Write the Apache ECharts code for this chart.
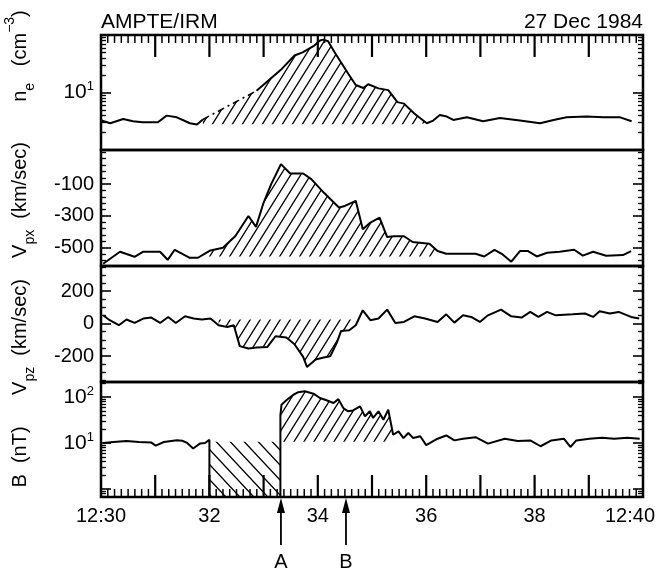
<!DOCTYPE html>
<html><head><meta charset="utf-8">
<script src="https://cdn.jsdelivr.net/npm/echarts@6/dist/echarts.min.js"></script>
<style>html,body{margin:0;padding:0;background:#fff}#c{width:660px;height:573px}</style>
</head><body><div id="c"></div>
<script>
// ---------------- data (time in minutes after 12:00) ----------------
const xLabelValues = [30, 32, 34, 36, 38, 40];
const xTickLabels = ['12:30', '32', '34', '36', '38', '12:40'];

const neBefore = [[30.01,3.25],[30.17,2.92],[30.41,3.47],[30.59,3.16],[30.77,3.04],[31.05,3.04],[31.21,3.96],[31.40,3.7],[31.64,2.92],[31.77,2.77],[31.88,3.4]];
const neDashed = [[31.88,3.4],[32.87,10.7]];
const neAfter = [[32.87,10.7],[33.10,16.5],[33.34,26],[33.57,44],[33.72,50],[33.92,64],[34.04,80],[34.10,83],[34.19,78],[34.31,50],[34.58,20],[34.70,13.5],[34.84,12],[34.93,13.9],[35.12,11.8],[35.30,11],[35.47,6.8],[35.59,6.4],[35.78,4.3],[36.01,2.92],[36.13,3.25],[36.25,4.07],[36.38,3.81],[36.50,3.33],[36.75,3.7],[37.05,3.16],[37.36,3.6],[37.73,3.25],[38.10,2.92],[38.35,3.33],[38.59,3.7],[38.96,3.81],[39.27,3.7],[39.58,3.7],[39.79,3.16]];

const vpx = [[30.04,-601],[30.35,-525],[30.62,-557],[30.78,-525],[31.09,-525],[31.23,-576],[31.36,-513],[31.63,-563],[31.79,-563],[31.94,-532],[32.02,-517],[32.25,-500],[32.48,-426],[32.72,-300],[32.86,-369],[32.99,-226],[33.14,-100],[33.32,26],[33.49,-33],[33.73,-33],[33.88,-68],[34.11,-153],[34.39,-247],[34.50,-237],[34.70,-205],[34.83,-384],[34.97,-342],[35.14,-310],[35.28,-433],[35.40,-428],[35.59,-428],[35.75,-464],[36.06,-475],[36.21,-521],[36.37,-538],[36.68,-538],[36.91,-538],[37.07,-555],[37.26,-513],[37.41,-542],[37.57,-588],[37.73,-521],[37.88,-521],[38.04,-555],[38.23,-532],[38.46,-525],[38.73,-513],[38.89,-550],[39.08,-525],[39.32,-550],[39.63,-546],[39.78,-521]];

const vpz = [[30.04,51],[30.16,21],[30.33,-10],[30.47,25],[30.62,4],[30.78,31],[30.93,37],[31.09,4],[31.24,41],[31.38,4],[31.55,45],[31.71,31],[31.86,25],[32.02,31],[32.17,-10],[32.33,-21],[32.45,-10],[32.56,-139],[32.72,-154],[32.87,-148],[33.07,-144],[33.22,-78],[33.42,-86],[33.57,-127],[33.73,-205],[33.80,-267],[33.96,-221],[34.11,-209],[34.23,-201],[34.35,-119],[34.43,-45],[34.58,-41],[34.70,-10],[34.83,82],[34.97,21],[35.12,31],[35.28,86],[35.43,4],[35.59,10],[35.78,45],[35.98,31],[36.21,10],[36.37,57],[36.52,6],[36.68,51],[36.83,41],[36.99,10],[37.14,51],[37.38,86],[37.57,45],[37.76,37],[37.92,72],[38.07,41],[38.23,72],[38.39,51],[38.70,57],[38.93,62],[39.08,41],[39.20,76],[39.39,62],[39.55,72],[39.78,41],[39.93,31]];

const bBefore = [[30.04,10],[30.23,10.5],[30.47,11],[30.70,10.5],[30.93,10.2],[31.01,8.8],[31.16,10.5],[31.40,11.5],[31.50,11.2],[31.58,10.2],[31.70,7.6],[31.83,9.8],[31.92,10],[32.00,11.8],[32.00,0.5]];
const bGap = [[32.00,10.7],[33.31,10.7]];
const bAfter = [[33.31,0.5],[33.31,40],[33.33,68],[33.43,87],[33.55,112],[33.64,127],[33.76,133],[33.92,118],[34.04,95],[34.16,85],[34.29,74],[34.38,90],[34.47,57.7],[34.56,48.9],[34.65,51],[34.78,62.7],[34.87,38],[34.96,48.9],[35.02,35],[35.12,48.9],[35.21,32],[35.30,53],[35.39,15.1],[35.49,17.9],[35.58,12.8],[35.67,16.5],[35.76,12.8],[35.89,14],[36.00,9],[36.21,12.4],[36.37,14.6],[36.52,11.4],[36.68,12.4],[36.91,13.4],[37.14,9.7],[37.45,12.4],[37.69,11],[37.92,11.4],[38.11,8.5],[38.31,11.4],[38.54,12.4],[38.66,8.2],[38.77,11.4],[39.01,12.4],[39.24,13],[39.47,12.4],[39.71,13],[39.94,12.4]];

const arrowTimes = [33.32, 34.52];
const arrowLabels = ['A', 'B'];

const neLabels = [10];
const vpxLabels = [-500, -300, -100];
const vpzLabels = [-200, 0, 200];
const bLabels = [10, 100];

// ---------------- helpers ----------------
const FONT = "'Liberation Sans', Arial, Helvetica, sans-serif";
const lg = Math.log10;

function hatchP(w, h, back) {
  const c = document.createElement('canvas');
  c.width = w; c.height = h;
  const g = c.getContext('2d');
  g.strokeStyle = '#000'; g.lineWidth = 1.3;
  g.beginPath();
  for (let n = -1; n <= 3; n++) {
    if (!back) { g.moveTo((n - 2) * w, 2 * h); g.lineTo((n + 1) * w, -h); }
    else { g.moveTo((n - 1) * w, -h); g.lineTo((n + 2) * w, 2 * h); }
  }
  g.stroke();
  return { image: c, repeat: 'repeat' };
}
const fwd = hatchP(10, 16, false);
const bwd = hatchP(14, 15, true);

function tick(len, vals, w) { return { show: true, inside: true, length: len, customValues: vals, lineStyle: { color: '#000', width: w } }; }
const noLine = { show: false, onZero: false };
const xAxes = [], yAxes = [];
function xAx(o) { xAxes.push(Object.assign({ type: 'value', min: 30, max: 40, interval: 1, splitLine: { show: false }, axisLine: noLine, axisTick: { show: false }, axisLabel: { show: false } }, o)); return xAxes.length - 1; }
function yAx(o) { yAxes.push(Object.assign({ type: 'value', splitLine: { show: false }, axisLine: noLine, axisTick: { show: false }, axisLabel: { show: false } }, o)); return yAxes.length - 1; }

const GRID = [[35, 115], [150, 116], [266, 116], [382, 115]];
const grids = GRID.map(g => ({
  left: 101, right: 17, top: g[0], height: g[1], show: true, borderColor: '#000', borderWidth: 2.5,
  backgroundColor: 'transparent', containLabel: false, outerBoundsMode: 'none'
}));

// ---- y axes ----
const yLabelStyle = { fontSize: 20, color: '#000', fontFamily: FONT };
const powRich = { b: { fontSize: 21, color: '#000', fontFamily: FONT }, s: { fontSize: 13, color: '#000', fontFamily: FONT, padding: [0, 0, 12, 0] } };

function tickAxes(gi, min, max, major, minor, labels, fmt, rich) {
  yAx({ gridIndex: gi, min, max, position: 'left', axisTick: tick(10, major, 1.6),
    axisLabel: Object.assign({ show: true, customValues: labels, margin: 7, formatter: fmt, rich }, yLabelStyle) });
  yAx({ gridIndex: gi, min, max, position: 'left', axisTick: tick(5, minor, 1.3) });
  yAx({ gridIndex: gi, min, max, position: 'right', axisTick: tick(10, major, 1.6) });
  yAx({ gridIndex: gi, min, max, position: 'right', axisTick: tick(5, minor, 1.3) });
}
function logMinor(lo, hi) { const r = []; for (let d = -1; d <= 2; d++) for (let k = 2; k <= 9; k++) { const v = k * Math.pow(10, d); if (v > lo && v < hi) r.push(lg(v)); } return r; }

const NE = [1, 100];
const yNe = yAx({ gridIndex: 0, type: 'log', logBase: 10, min: NE[0], max: NE[1], show: false });
tickAxes(0, lg(NE[0]), lg(NE[1]), neLabels.map(lg), logMinor(NE[0], NE[1]), neLabels.map(lg), v => '{b|10}{s|' + Math.round(v) + '}', powRich);
const VPX = [-615, 115];
const yVpx = yAx({ gridIndex: 1, min: VPX[0], max: VPX[1], show: false });
const vpxMinor = []; for (let v = -580; v < VPX[1]; v += 40) if (vpxLabels.indexOf(v) < 0) vpxMinor.push(v);
tickAxes(1, VPX[0], VPX[1], vpxLabels, vpxMinor, vpxLabels, v => String(v), null);
const VPZ = [-360, 355];
const yVpz = yAx({ gridIndex: 2, min: VPZ[0], max: VPZ[1], show: false });
const vpzMinor = []; for (let v = -350; v < VPZ[1]; v += 50) if (vpzLabels.indexOf(v) < 0) vpzMinor.push(v);
tickAxes(2, VPZ[0], VPZ[1], vpzLabels, vpzMinor, vpzLabels, v => String(v), null);
const BR = [0.67, 212];
const yB = yAx({ gridIndex: 3, type: 'log', logBase: 10, min: BR[0], max: BR[1], show: false });
tickAxes(3, lg(BR[0]), lg(BR[1]), [0].concat(bLabels.map(lg)), logMinor(BR[0], BR[1]), bLabels.map(lg), v => '{b|10}{s|' + Math.round(v) + '}', powRich);

// ---- x axes ----
const xTop = xAx({ gridIndex: 0, position: 'top' });
const x1 = xAx({ gridIndex: 1, show: false });
const x2 = xAx({ gridIndex: 2, show: false });
const xBot = xAx({ gridIndex: 3, position: 'bottom',
  axisLabel: { show: true, customValues: xLabelValues, margin: 9, fontSize: 20, color: '#000', fontFamily: FONT,
    formatter: v => v === 40 ? '{r|' + xTickLabels[xLabelValues.indexOf(v)] + '}' : xTickLabels[xLabelValues.indexOf(v)],
    rich: { r: { fontSize: 20, color: '#000', fontFamily: FONT, padding: [0, 26, 0, 0] } } } });

function line(xi, yi, data, extra) {
  return Object.assign({ type: 'line', xAxisIndex: xi, yAxisIndex: yi, data, symbol: 'none', showSymbol: false, silent: true,
    lineStyle: { color: '#000', width: 2 }, z: 3 }, extra || {});
}
function area(xi, yi, data, origin, pat) {
  return { type: 'line', xAxisIndex: xi, yAxisIndex: yi, data, symbol: 'none', showSymbol: false, silent: true,
    lineStyle: { width: 0, opacity: 0 }, areaStyle: { color: pat, opacity: 1, origin }, z: 2 };
}
const inT = (a, b) => p => p[0] >= a && p[0] <= b;

const series = [
  area(xTop, yNe, neDashed.concat(neAfter.filter(inT(32.87, 36.01))), 2.8, fwd),
  line(xTop, yNe, neBefore),
  line(xTop, yNe, neDashed, { lineStyle: { color: '#000', width: 1.6, type: [7, 4, 2, 4] } }),
  line(xTop, yNe, neAfter),
  area(x1, yVpx, vpx.filter(inT(31.94, 36.21)), -555, fwd),
  line(x1, yVpx, vpx),
  area(x2, yVpz, vpz.filter(inT(32.17, 34.70)), 25, fwd),
  line(x2, yVpz, vpz),
  area(xBot, yB, bGap, 0.5, bwd),
  area(xBot, yB, bAfter.filter(p => p[0] >= 33.31 && p[0] <= 35.39 && p[1] > 1), 10.7, fwd),
  line(xBot, yB, bBefore),
  line(xBot, yB, bAfter)
];

const rich = {
  n: { fontSize: 20, fontFamily: FONT, fill: '#000' },
  sub: { fontSize: 14, fontFamily: FONT, fill: '#000', padding: [20, 0, 0, 0] },
  sup: { fontSize: 14, fontFamily: FONT, fill: '#000', padding: [0, 0, 20, 0] }
};
function yTitle(id, text, y) {
  return { id, type: 'text', x: 20, y, rotation: Math.PI / 2, silent: true,
    style: { text, rich, fontSize: 20, fontFamily: FONT, fill: '#000', align: 'center', verticalAlign: 'middle' } };
}
const graphics = [
  { id: 't1', type: 'text', x: 101, y: 22, silent: true, style: { text: 'AMPTE/IRM', fontSize: 21, fontFamily: FONT, fill: '#000', align: 'left', verticalAlign: 'middle' } },
  { id: 't2', type: 'text', x: 643, y: 22, silent: true, style: { text: '27 Dec 1984', fontSize: 21, fontFamily: FONT, fill: '#000', align: 'right', verticalAlign: 'middle' } },
  yTitle('y1', '{n|n}{sub|e}{n|   (cm}{sup|−3}{n|)}', 56),
  yTitle('y2', '{n|V}{sub|px}{n|  (km/sec)}', 200),
  yTitle('y3', '{n|V}{sub|pz}{n|  (km/sec)}', 337),
  yTitle('y4', '{n|B  (nT)}', 457)
];

const chart = echarts.init(document.getElementById('c'), null, { renderer: 'canvas' });
chart.setOption({ animation: false, backgroundColor: '#fff', grid: grids, xAxis: xAxes, yAxis: yAxes, series, graphic: { elements: graphics } });

// time-axis ticks (every minute long, every 7.5 s short), placed through the x scale
const TICKCOL = '#000';
const extra = [];
const yTopEdge = GRID[0][0], yBotEdge = GRID[3][0] + GRID[3][1];
for (let m = 30; m < 40; m++) {
  for (let k = 0; k < 8; k++) {
    if (m === 30 && k === 0) continue;
    const t = m + k / 8;
    const len = k === 0 ? 22 : 8, w = k === 0 ? 2.2 : 1.5;
    const pt = chart.convertToPixel({ xAxisIndex: xTop }, t);
    const pb = chart.convertToPixel({ xAxisIndex: xBot }, t);
    extra.push({ type: 'line', silent: true, z: 50, shape: { x1: pt, y1: yTopEdge, x2: pt, y2: yTopEdge + len }, style: { stroke: TICKCOL, lineWidth: w } });
    extra.push({ type: 'line', silent: true, z: 50, shape: { x1: pb, y1: yBotEdge, x2: pb, y2: yBotEdge - len }, style: { stroke: TICKCOL, lineWidth: w } });
  }
}
arrowTimes.forEach((t, i) => {
  const px = chart.convertToPixel({ xAxisIndex: xBot }, t);
  extra.push({ type: 'line', silent: true, shape: { x1: px, y1: 545, x2: px, y2: 508 }, style: { stroke: '#000', lineWidth: 1.8 } });
  extra.push({ type: 'polygon', silent: true, shape: { points: [[px, 498], [px - 4, 513], [px + 4, 513]] }, style: { fill: '#000' } });
  extra.push({ type: 'text', x: px, y: 562, silent: true, style: { text: arrowLabels[i], fontSize: 20, fontFamily: FONT, fill: '#000', align: 'center', verticalAlign: 'middle' } });
});
extra.forEach((e, i) => { e.id = 'e' + i; });
chart.setOption({ graphic: { elements: graphics.concat(extra) } });
</script></body></html>
